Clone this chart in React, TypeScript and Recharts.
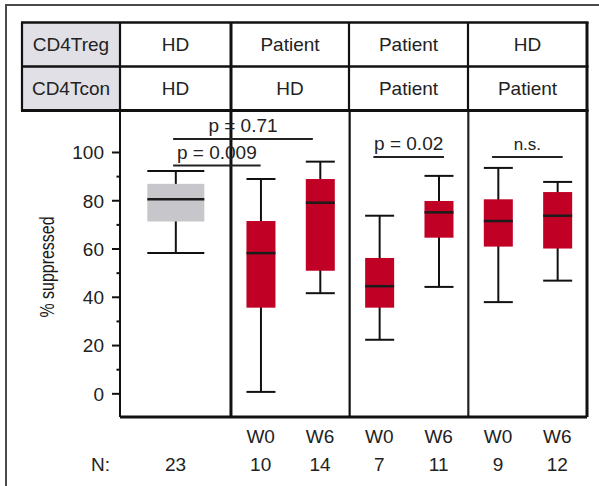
import React from 'react';
import { ComposedChart, Bar, XAxis, YAxis, ReferenceLine } from 'recharts';

// box statistics, % suppressed
const timepoints = ['', 'W0', 'W6', 'W0', 'W6', 'W0', 'W6'];
const nCounts = [23, 10, 14, 7, 11, 9, 12];
const whiskerLow = [58.3, 0.8, 41.7, 22.4, 44.3, 38.0, 46.9];
const q1 = [71.4, 35.7, 51.0, 35.7, 64.7, 61.0, 60.2];
const median = [80.6, 58.3, 79.2, 44.6, 75.2, 71.6, 73.8];
const q3 = [87.0, 71.6, 89.0, 56.3, 79.9, 80.6, 83.6];
const whiskerHigh = [92.3, 89.0, 96.2, 73.8, 90.3, 93.6, 87.8];

const tregRow = ['HD', 'Patient', 'Patient', 'HD'];
const tconRow = ['HD', 'HD', 'Patient', 'Patient'];

const yTicks = [0, 10, 20, 30, 40, 50, 60, 70, 80, 90, 100];

const comparisons = [
  { from: 0, to: 2, level: 105.6, label: 'p = 0.71' },
  { from: 0, to: 1, level: 94.6, label: 'p = 0.009' },
  { from: 3, to: 4, level: 98.1, label: 'p = 0.02' },
  { from: 5, to: 6, level: 98.1, label: 'n.s.' },
];

const HD_SPAN = 1.87;
const FONT = '"Liberation Sans", Arial, Helvetica, sans-serif';
const RED = '#c10026';
const GREY = '#c7c6ca';

// x position: HD column left of 0, each patient column is 2 units wide
const boxX = (i: number) => {
  if (i === 0) return -HD_SPAN / 2;
  const col = Math.ceil(i / 2);
  return (col - 1) * 2 + (i % 2 === 1 ? 0.5 : 1.5);
};

const boxes = timepoints.map((t, i) => ({
  x: boxX(i),
  lo: whiskerLow[i],
  q1: q1[i],
  med: median[i],
  q3: q3[i],
  hi: whiskerHigh[i],
  hd: i === 0,
}));
const positions = boxes.map(b => b.x);

function BoxShape(props: any) {
  const { x, y, width, height, payload } = props;
  const cx = x + width / 2;
  const top = Math.min(y, y + height);
  const bottom = Math.max(y, y + height);
  const span = payload.hi - payload.lo;
  const py = (v: number) => top + ((payload.hi - v) / span) * (bottom - top);
  const w = payload.hd ? 57 : 29;
  const fill = payload.hd ? GREY : RED;
  return (
    <g>
      <line x1={cx} x2={cx} y1={top} y2={bottom} stroke="#111" strokeWidth={2} />
      <line x1={cx - w / 2} x2={cx + w / 2} y1={top} y2={top} stroke="#111" strokeWidth={2} />
      <line x1={cx - w / 2} x2={cx + w / 2} y1={bottom} y2={bottom} stroke="#111" strokeWidth={2} />
      <rect x={cx - w / 2} y={py(payload.q3)} width={w} height={py(payload.q1) - py(payload.q3)} fill={fill} />
      <line x1={cx - w / 2} x2={cx + w / 2} y1={py(payload.med)} y2={py(payload.med)} stroke="#1c1c1c" strokeWidth={2.5} />
    </g>
  );
}

function YTick({ x, y, payload }: any) {
  const major = payload.value % 20 === 0;
  return (
    <g>
      <line x1={x + (major ? 8 : 12.5)} x2={x + 16} y1={y} y2={y} stroke="#111" strokeWidth={2} />
      {major && (
        <text x={x} y={y} dy="0.36em" textAnchor="end" fontSize={19} fill="#222">
          {payload.value}
        </text>
      )}
    </g>
  );
}

function XTick({ x, y, payload }: any) {
  const i = positions.findIndex(p => Math.abs(p - payload.value) < 1e-6);
  if (i < 0) return null;
  return (
    <g>
      {timepoints[i] && (
        <text x={x} y={y + 19} dy="0.36em" textAnchor="middle" fontSize={19} fill="#222">
          {timepoints[i]}
        </text>
      )}
      <text x={x} y={y + 47} dy="0.36em" textAnchor="middle" fontSize={19} fill="#222">
        {nCounts[i]}
      </text>
    </g>
  );
}

const colEdges = [22, 120, 231, 349, 468, 587];

function HeaderTable() {
  const centers = colEdges.slice(1, -1).map((e, k) => (e + colEdges[k + 2]) / 2);
  return (
    <svg width={599} height={486} style={{ position: 'absolute', left: 0, top: 0, pointerEvents: 'none' }}>
      <path d="M6,486 L6,5 L599,5" fill="none" stroke="#4a4a4a" strokeWidth={2} />
      <rect x={22} y={22} width={98} height={88} fill="#e1e0e6" />
      <line x1={21} x2={588.5} y1={22.5} y2={22.5} stroke="#111" strokeWidth={2.5} />
      <line x1={21} x2={588.5} y1={66.5} y2={66.5} stroke="#111" strokeWidth={2.5} />
      <line x1={21} x2={588.5} y1={110.5} y2={110.5} stroke="#111" strokeWidth={3.2} />
      {colEdges.map((e, k) => (
        <line key={k} x1={e} x2={e} y1={22} y2={111}
          stroke="#111" strokeWidth={k === 2 || k === 5 ? 3 : 2.2} />
      ))}
      <text x={71} y={44.5} dy="0.36em" textAnchor="middle" fontSize={19} fill="#222">CD4Treg</text>
      <text x={71} y={88.5} dy="0.36em" textAnchor="middle" fontSize={19} fill="#222">CD4Tcon</text>
      {tregRow.map((t, k) => (
        <text key={'r' + k} x={centers[k]} y={44.5} dy="0.36em" textAnchor="middle" fontSize={19} fill="#222">{t}</text>
      ))}
      {tconRow.map((t, k) => (
        <text key={'c' + k} x={centers[k]} y={88.5} dy="0.36em" textAnchor="middle" fontSize={19} fill="#222">{t}</text>
      ))}
      <text x={54} y={267} transform="rotate(-90, 54, 267)" textAnchor="middle" fontSize={21}
        textLength={101} lengthAdjust="spacingAndGlyphs" fill="#1a1a1a">% suppressed</text>
      <text x={110} y={464} dy="0.36em" textAnchor="end" fontSize={19} fill="#222">N:</text>
    </svg>
  );
}

export default function App() {
  return (
    <div style={{ position: 'absolute', left: 0, top: 0, width: 599, height: 486, background: '#fff', fontFamily: FONT }}>
      <ComposedChart width={599} height={486} data={boxes} margin={{ top: 110, right: 12, bottom: 0, left: 60 }}>
        <XAxis type="number" dataKey="x" domain={[-HD_SPAN, 6]} allowDataOverflow ticks={positions} interval={0}
          axisLine={false} tickLine={false} tickSize={0} tickMargin={0} height={69} tick={<XTick />} />
        <YAxis type="number" domain={[-9.6, 117.6]} allowDataOverflow ticks={yTicks} interval={0} width={60}
          axisLine={{ stroke: '#111', strokeWidth: 2 }} tickLine={false} tickSize={8} tickMargin={8} tick={<YTick />} />
        <ReferenceLine x={0} stroke="#111" strokeWidth={3} />
        <ReferenceLine x={2} stroke="#111" strokeWidth={2.2} />
        <ReferenceLine x={4} stroke="#222" strokeWidth={2.2} />
        <ReferenceLine x={6} stroke="#111" strokeWidth={3} />
        <ReferenceLine y={-9.6} stroke="#111" strokeWidth={3} />
        <Bar dataKey={(d: any) => [d.lo, d.hi]} barSize={2} shape={<BoxShape />} isAnimationActive={false} />
        {comparisons.map((c, k) => {
          const same = boxes[c.from].hd === boxes[c.to].hd;
          const x1 = positions[c.from] - (same ? 0.1 : 0.04);
          const x2 = positions[c.to] + (same ? 0.09 : c.to === 2 ? -0.12 : 0);
          return (
            <ReferenceLine key={k} segment={[{ x: x1, y: c.level }, { x: x2, y: c.level }]}
              stroke="#222" strokeWidth={2}
              label={{ value: c.label, position: 'top', offset: 7, fontSize: c.label === 'n.s.' ? 17 : 19, fill: '#222' }} />
          );
        })}
      </ComposedChart>
      <HeaderTable />
    </div>
  );
}
